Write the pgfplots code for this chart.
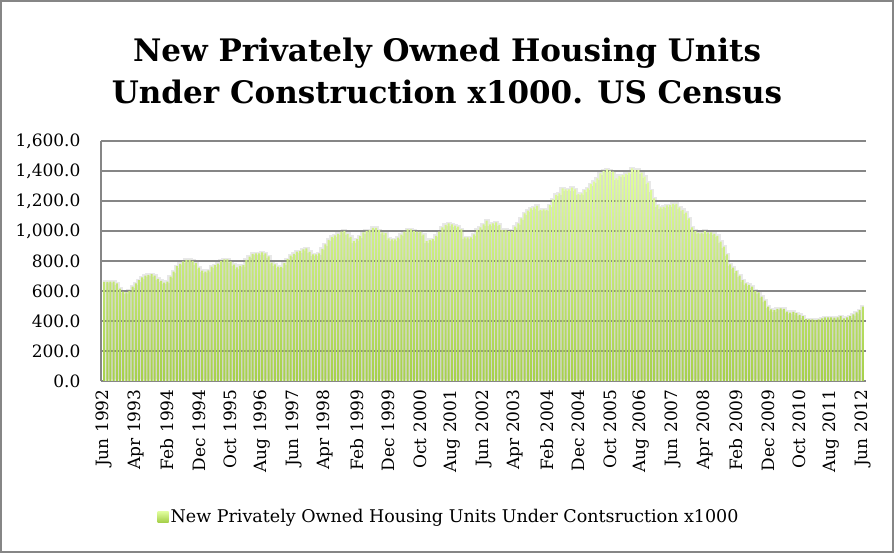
\documentclass[border=0pt]{standalone}
\usepackage{fontspec}
\setmainfont{DejaVu Serif}
\usepackage{pgfplots}
\pgfplotsset{compat=1.18}
\usepackage{pgfplotstable}
\definecolor{gridgray}{RGB}{134,134,134}
\definecolor{bartop}{RGB}{226,255,160}
\definecolor{barbot}{RGB}{166,208,74}
\definecolor{shadowgray}{RGB}{216,216,216}
\pgfplotstableread{
v
660
660
662
662
650
615
596
590
600
629
651
673
691
702
707
713
702
680
667
655
662
696
729
765
780
798
807
807
800
785
755
735
729
738
762
773
782
800
811
811
798
775
758
767
773
807
829
847
851
851
858
851
830
789
778
762
760
785
812
835
847
862
865
878
884
860
844
844
850
880
910
940
960
970
980
995
1000
980
960
933
945
965
990
1000
1005
1020
1020
1005
991
985
951
944
944
955
975
996
1011
1010
1000
996
996
975
933
940
945
967
995
1024
1040
1050
1044
1036
1029
1010
958
958
958
978
1007
1024
1044
1069
1044
1051
1058
1040
1007
1007
1000
1000
1029
1051
1084
1118
1136
1151
1158
1167
1140
1144
1140
1173
1211
1240
1251
1284
1278
1278
1289
1278
1247
1251
1273
1284
1313
1329
1351
1384
1400
1411
1402
1396
1351
1367
1373
1380
1389
1418
1407
1407
1389
1362
1322
1273
1218
1173
1158
1160
1170
1173
1180
1180
1158
1140
1122
1084
1024
1000
989
989
1000
991
991
980
967
929
896
844
778
756
733
702
673
651
640
629
600
591
562
536
496
478
473
480
484
480
462
456
460
453
440
433
413
411
411
407
411
418
424
424
424
422
424
433
418
424
433
444
458
473
496
}\housing
\begin{document}
\begin{tikzpicture}[x=1pt,y=1pt]
\path (0,0) rectangle (894,553);
\draw[gridgray, line width=2pt] (1,1) rectangle (893,552);
\node[font=\fontsize{31}{42}\selectfont\bfseries, align=center] at (447,482)
  {New Privately Owned Housing Units\\Under Construction x1000. US Census};
\begin{axis}[
  at={(101pt,172pt)}, anchor=south west,
  scale only axis, width=765pt, height=240pt,
  xmin=-1, xmax=241, ymin=0, ymax=1600,
  axis x line*=bottom, axis y line*=left,
  axis line style={gridgray, line width=2pt},
  ytick={0,200,...,1600},
  yticklabels={0.0,200.0,400.0,600.0,800.0,{1,000.0},{1,200.0},{1,400.0},{1,600.0}},
  xtick={0,10,...,240},
  xticklabels={Jun 1992,Apr 1993,Feb 1994,Dec 1994,Oct 1995,Aug 1996,Jun 1997,Apr 1998,Feb 1999,Dec 1999,Oct 2000,Aug 2001,Jun 2002,Apr 2003,Feb 2004,Dec 2004,Oct 2005,Aug 2006,Jun 2007,Apr 2008,Feb 2009,Dec 2009,Oct 2010,Aug 2011,Jun 2012},
  xticklabel style={rotate=90, anchor=east, xshift=-5pt, font=\fontsize{17}{20}\selectfont},
  yticklabel style={xshift=-17pt, font=\fontsize{17}{20}\selectfont},
  tick style={draw=none},
  legend style={at={(0.455,-0.567)}, anchor=center, draw=none, fill=none,
    font=\fontsize{17.5}{20}\selectfont},
  legend image code/.code={\shade[top color=bartop, bottom color=barbot] (-5pt,-5pt) rectangle (6pt,6pt);},
]
\addplot[const plot mark mid, fill=shadowgray, draw=shadowgray!60, line width=3pt, forget plot]
  table[x expr=\coordindex, y=v] {\housing} \closedcycle;
\pgfplotsinvokeforeach{200,400,...,1600}{
  \draw[gridgray, line width=1.5pt] (axis cs:-1,#1) -- (axis cs:241,#1);
}
\addplot[ybar, bar width=2pt, draw=none, top color=bartop, bottom color=barbot]
  table[x expr=\coordindex, y=v] {\housing};
\addlegendentry{New Privately Owned Housing Units Under Contsruction x1000}
\end{axis}
\end{tikzpicture}
\end{document}
